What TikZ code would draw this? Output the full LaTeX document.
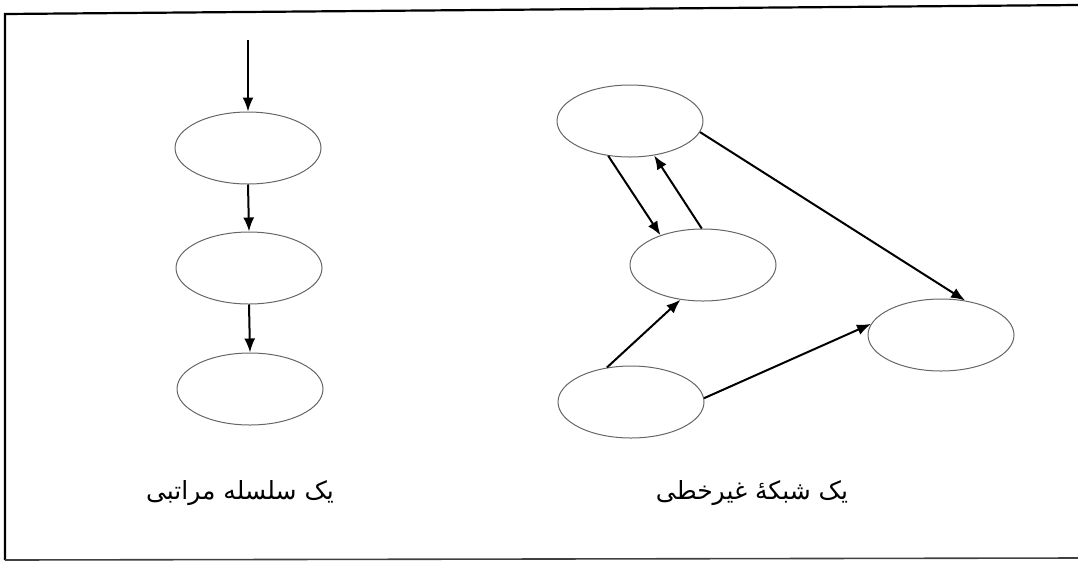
\documentclass[tikz,border=0pt]{standalone}
\usepackage{fontspec}
\usetikzlibrary{shapes.geometric,arrows.meta}
\TeXXeTstate=1
\newfontfamily\arabicfont[Script=Arabic]{DejaVu Sans}
\tikzset{
  oval/.style={draw=black!60, line width=1pt, ellipse, minimum width=146pt, minimum height=72pt, inner sep=0pt},
  arr/.style={-{Latex[length=14pt,width=11pt]}, line width=2pt},
  frame/.style={line width=2.2pt},
  captext/.style={font=\arabicfont\fontsize{25}{28}\selectfont}
}
\begin{document}
\begin{tikzpicture}[x=1pt,y=-1pt]
\useasboundingbox (0,0) rectangle (1078,566);
% frame
\coordinate (f1) at (5,14);
\coordinate (f2) at (1078,5);
\coordinate (f3) at (5,560);
\coordinate (f4) at (1078,558);
\draw[frame] (f2) -- (f1) -- (f3);
\draw[line width=1.6pt, black!75] (f3) -- (f4);
% left chain
\coordinate (start) at (248,40);
\node[oval] (l1) at (248,148) {};
\node[oval] (l2) at (249,268) {};
\node[oval] (l3) at (250,389) {};
\draw[arr] (start) -- (l1.north);
\draw[arr] (l1.south) -- (l2.north);
\draw[arr] (l2.south) -- (l3.north);
% right network
\node[oval] (a) at (630,121) {};
\node[oval] (b) at (703,265) {};
\node[oval] (c) at (941,335) {};
\node[oval] (d) at (631,402) {};
\draw[arr] (a.-122) -- (b.145);
\draw[arr] (b.92) -- (a.-55);
\draw[arr] (a.-9) -- (c.55);
\draw[arr] (d.125) -- (b.-123);
\draw[arr] (d.3) -- (c.171);
% captions
\node[captext] (t1) at (240,493) {\beginR یک سلسله مراتبی\endR};
\node[captext] (t2) at (752,493) {\beginR یک شبکهٔ غیرخطی\endR};
\end{tikzpicture}
\end{document}
